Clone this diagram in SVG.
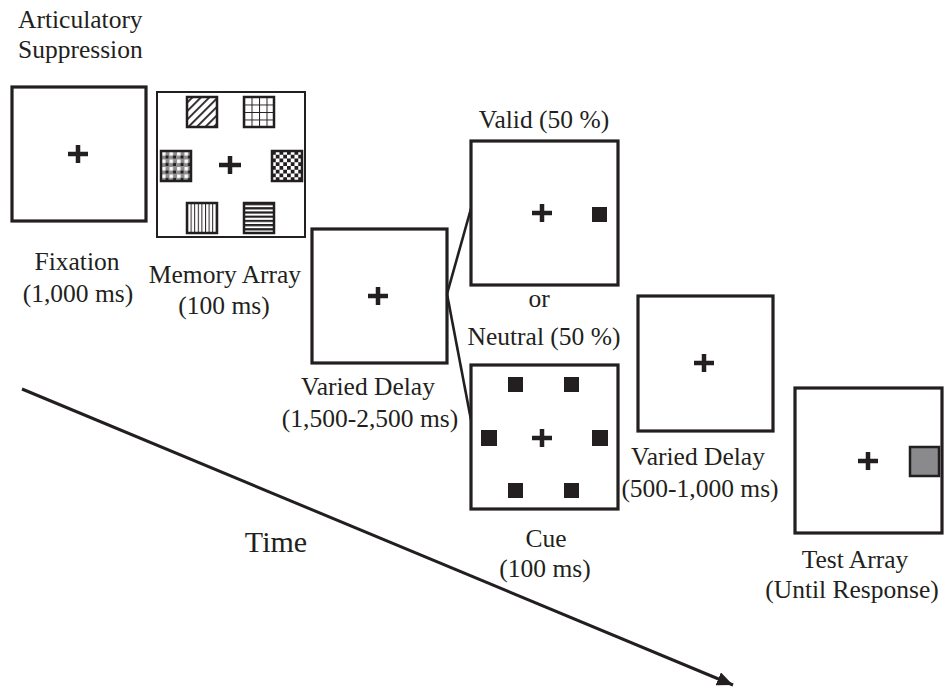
<svg xmlns="http://www.w3.org/2000/svg" width="945" height="688" viewBox="0 0 945 688">
<style>
.box{fill:#fff;stroke:#231f20;stroke-width:3.2}
.thin{fill:#fff;stroke:#231f20;stroke-width:2}
.cross{stroke:#231f20;stroke-width:4.5;fill:none}
.patch{stroke:#231f20;stroke-width:2.5}
.dot{fill:#231f20}
text{font-family:'Liberation Serif','DejaVu Serif','Times New Roman',Times,serif;font-size:25.5px;fill:#231f20;text-anchor:middle}
.conn{stroke:#231f20;stroke-width:2.6;fill:none}
</style>
<defs>
<marker id="ah" markerUnits="userSpaceOnUse" markerWidth="18" markerHeight="14" refX="16" refY="7" orient="auto">
<path d="M0,0 L16,7 L0,14 z" fill="#231f20"/>
</marker>
<pattern id="diag" patternUnits="userSpaceOnUse" width="6" height="6" patternTransform="rotate(45)">
<rect width="6" height="6" fill="#fff"/>
<rect x="0" y="0" width="1.8" height="6" fill="#231f20"/>
</pattern>
<pattern id="grid" patternUnits="userSpaceOnUse" x="244" y="97" width="7.5" height="7.5">
<rect width="7.5" height="7.5" fill="#fff"/>
<path d="M0,0.5 H7.5 M0.5,0 V7.5" stroke="#231f20" stroke-width="1"/>
</pattern>
<pattern id="vert" patternUnits="userSpaceOnUse" x="187" y="203" width="3.6" height="30">
<rect width="3.6" height="30" fill="#fff"/>
<rect x="0" width="1" height="30" fill="#231f20"/>
</pattern>
<pattern id="horz" patternUnits="userSpaceOnUse" x="244" y="203" width="30" height="4.2">
<rect width="30" height="4.2" fill="#fff"/>
<rect y="0" width="30" height="2.2" fill="#231f20"/>
</pattern>
<pattern id="check" patternUnits="userSpaceOnUse" x="272" y="151" width="7.5" height="7.5">
<rect width="7.5" height="7.5" fill="#fff"/>
<rect width="3.75" height="3.75" fill="#231f20"/>
<rect x="3.75" y="3.75" width="3.75" height="3.75" fill="#231f20"/>
</pattern>
<pattern id="plaid" patternUnits="userSpaceOnUse" x="161" y="151" width="7.5" height="7.5">
<rect width="7.5" height="7.5" fill="#8f8f8f"/>
<rect x="1" y="1" width="3.5" height="3.5" fill="#fff"/>
<rect x="4.5" y="4.5" width="3" height="3" fill="#231f20"/>
</pattern>
</defs>

<g id="suppression-label">
<text x="18" y="28" style="text-anchor:start">Articulatory</text>
<text x="18" y="58" style="text-anchor:start">Suppression</text>
</g>

<g id="fixation">
<rect class="box" x="12" y="87" width="134" height="134"/>
<path class="cross" d="M68,154 H88 M78,145 V163"/>
<text x="77" y="270">Fixation</text>
<text x="78" y="302">(1,000 ms)</text>
</g>

<g id="memory-array">
<rect class="thin" x="157" y="92" width="148" height="145"/>
<rect class="patch" x="187" y="97" width="30" height="30" fill="url(#diag)"/>
<rect class="patch" x="244" y="97" width="30" height="30" fill="url(#grid)"/>
<rect class="patch" x="161" y="151" width="30" height="30" fill="url(#plaid)"/>
<rect class="patch" x="272" y="151" width="30" height="30" fill="url(#check)"/>
<rect class="patch" x="187" y="203" width="30" height="30" fill="url(#vert)"/>
<rect class="patch" x="244" y="203" width="30" height="30" fill="url(#horz)"/>
<path class="cross" d="M219,165 H241 M230,156 V174"/>
<text x="225" y="283">Memory Array</text>
<text x="224" y="314">(100 ms)</text>
</g>

<g id="delay1">
<rect class="box" x="312" y="229" width="135" height="134"/>
<path class="cross" d="M368,296 H388 M378,287 V305"/>
<text x="368" y="395">Varied Delay</text>
<text x="370" y="427">(1,500-2,500 ms)</text>
</g>

<g id="connectors">
<line class="conn" x1="447" y1="294" x2="472" y2="205"/>
<line class="conn" x1="447" y1="294" x2="471" y2="420"/>
<line x1="22" y1="389" x2="733" y2="685" stroke="#231f20" stroke-width="3" marker-end="url(#ah)"/>
</g>

<g id="time-label">
<text x="276" y="552" style="font-size:30px">Time</text>
</g>

<g id="valid">
<text x="544" y="128">Valid (50 %)</text>
<rect class="box" x="471" y="141" width="147" height="144"/>
<path class="cross" d="M532,213 H552 M542,204 V222"/>
<rect class="dot" x="592" y="207" width="15" height="15"/>
</g>

<g id="or-label">
<text x="539" y="307">or</text>
</g>

<g id="neutral-cue">
<text x="544" y="345">Neutral (50 %)</text>
<rect class="box" x="471" y="365" width="147" height="144"/>
<path class="cross" d="M532,438 H552 M542,429 V447"/>
<rect class="dot" x="508" y="377" width="15" height="15"/>
<rect class="dot" x="564" y="377" width="15" height="15"/>
<rect class="dot" x="481" y="430" width="16" height="16"/>
<rect class="dot" x="592" y="430" width="16" height="16"/>
<rect class="dot" x="508" y="483" width="15" height="15"/>
<rect class="dot" x="564" y="483" width="15" height="15"/>
<text x="546" y="547">Cue</text>
<text x="545" y="577">(100 ms)</text>
</g>

<g id="delay2">
<rect class="box" x="638" y="296" width="135" height="135"/>
<path class="cross" d="M694,363 H714 M704,354 V372"/>
<text x="698" y="465">Varied Delay</text>
<text x="700" y="497">(500-1,000 ms)</text>
</g>

<g id="test-array">
<rect class="box" x="795" y="388" width="147" height="145"/>
<path class="cross" d="M858,461 H878 M868,452 V470"/>
<rect x="910" y="447" width="29" height="29" fill="#8a8a8c" stroke="#231f20" stroke-width="2.5"/>
<text x="855" y="568">Test Array</text>
<text x="852" y="598">(Until Response)</text>
</g>
</svg>
